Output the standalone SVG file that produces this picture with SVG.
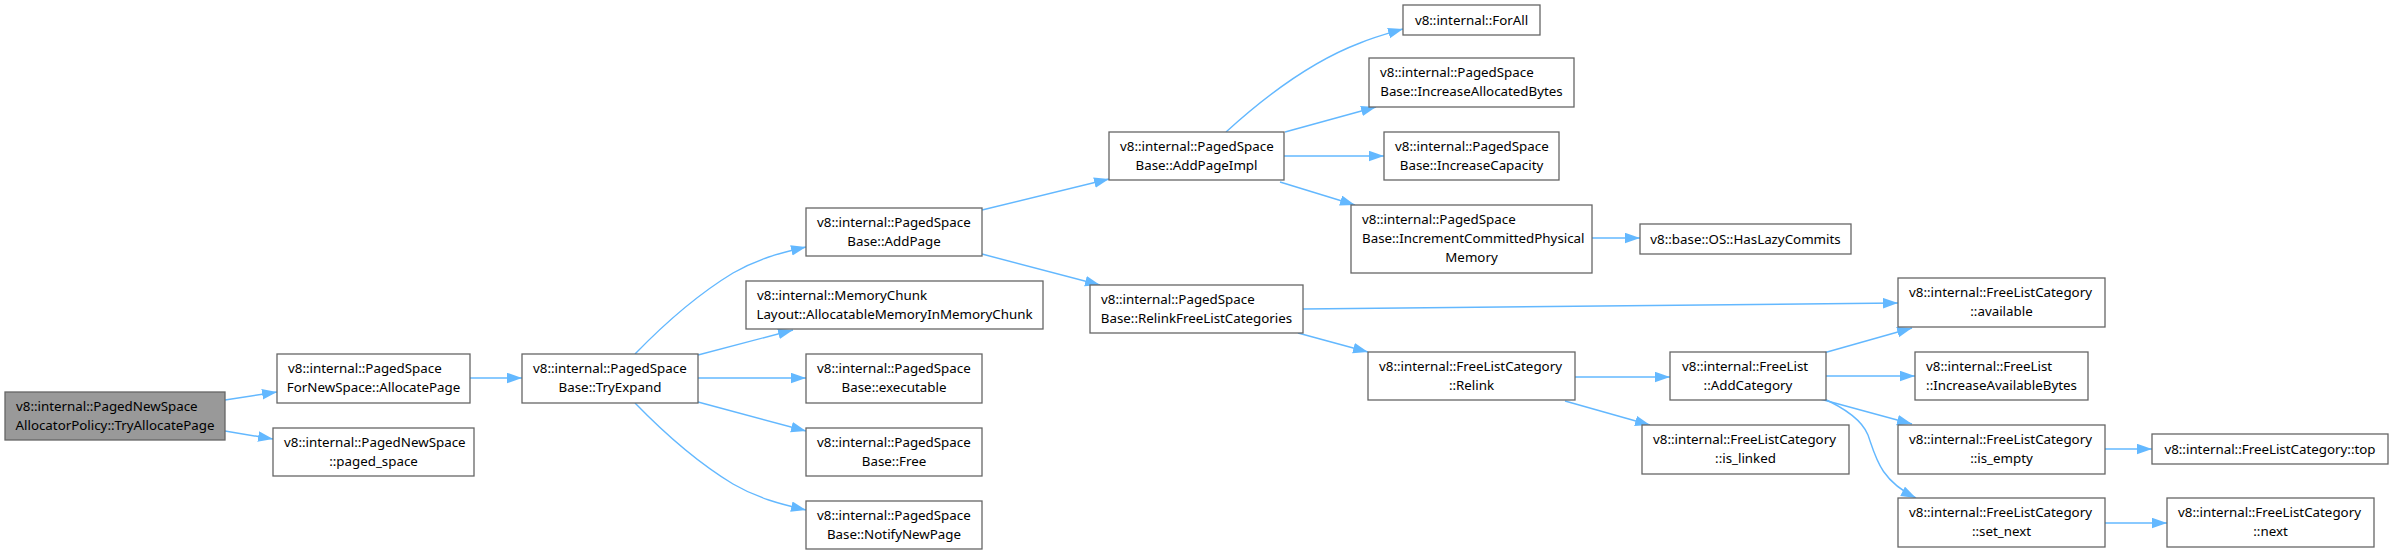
<svg xmlns="http://www.w3.org/2000/svg" width="2394" height="555" viewBox="0 0 2394 555">
<style>
.n rect{fill:#ffffff;stroke:#666666;stroke-width:1.3}
.n.root rect{fill:#999999}
.n text{font-family:"Noto Sans","Open Sans","DejaVu Sans",sans-serif;font-size:13.33px;fill:#000000}
.s{text-anchor:start}
.m{text-anchor:middle}
.e path{fill:none;stroke:#63b8ff;stroke-width:1.4;marker-end:url(#arr)}
</style>
<defs>
<marker id="arr" markerWidth="16" markerHeight="12" refX="15" refY="5.25" orient="auto" markerUnits="userSpaceOnUse">
<path d="M0,0 L15,5.25 L0,10.5 z" fill="#63b8ff"/>
</marker>
</defs>
<rect width="2394" height="555" fill="#ffffff"/>
<g id="edges" class="e">
<path d="M225,400 L277,392"/>
<path d="M225,431 L273,439"/>
<path d="M470,378 L522,378"/>
<path d="M635,354 C668,320 700,293 733,273 C757,259 780,253 806,247"/>
<path d="M698,355 L793,330"/>
<path d="M698,378 L806,378"/>
<path d="M698,402 L806,431"/>
<path d="M635,403 C668,437 700,464 733,484 C757,498 780,504 806,510"/>
<path d="M982,210 L1109,179"/>
<path d="M982,254 L1100,285"/>
<path d="M1226,132 C1260,101 1310,62 1360,43 C1374,37 1389,33 1403,29"/>
<path d="M1285,132 L1376,107"/>
<path d="M1284,156 L1384,156"/>
<path d="M1280,182 L1355,205"/>
<path d="M1592,238 L1640,238"/>
<path d="M1303,309 L1898,303"/>
<path d="M1298,333 L1368,352"/>
<path d="M1575,377 L1670,377"/>
<path d="M1565,401 L1650,425"/>
<path d="M1820,354 L1912,328"/>
<path d="M1826,376 L1915,376"/>
<path d="M1820,399 L1912,424"/>
<path d="M1820,397 C1845,408 1862,420 1868,435 C1876,458 1880,480 1916,498"/>
<path d="M2105,449 L2152,449"/>
<path d="M2105,523 L2167,523"/>
</g>
<g id="n1" class="n root"><rect x="5" y="392" width="220" height="48"/><text class="s" x="16" y="411">v8::internal::PagedNewSpace</text><text class="m" x="115" y="430">AllocatorPolicy::TryAllocatePage</text></g>
<g id="n2" class="n"><rect x="277" y="354" width="193" height="49"/><text class="s" x="288" y="373">v8::internal::PagedSpace</text><text class="m" x="373.5" y="392">ForNewSpace::AllocatePage</text></g>
<g id="n3" class="n"><rect x="273" y="428" width="201" height="48"/><text class="s" x="284" y="447">v8::internal::PagedNewSpace</text><text class="m" x="373.5" y="466">::paged_space</text></g>
<g id="n4" class="n"><rect x="522" y="354" width="176" height="49"/><text class="s" x="533" y="373">v8::internal::PagedSpace</text><text class="m" x="610" y="392">Base::TryExpand</text></g>
<g id="n5" class="n"><rect x="806" y="208" width="176" height="48"/><text class="s" x="817" y="227">v8::internal::PagedSpace</text><text class="m" x="894" y="246">Base::AddPage</text></g>
<g id="n6" class="n"><rect x="746" y="281" width="297" height="48"/><text class="s" x="757" y="300">v8::internal::MemoryChunk</text><text class="m" x="894.5" y="319">Layout::AllocatableMemoryInMemoryChunk</text></g>
<g id="n7" class="n"><rect x="806" y="354" width="176" height="49"/><text class="s" x="817" y="373">v8::internal::PagedSpace</text><text class="m" x="894" y="392">Base::executable</text></g>
<g id="n8" class="n"><rect x="806" y="428" width="176" height="48"/><text class="s" x="817" y="447">v8::internal::PagedSpace</text><text class="m" x="894" y="466">Base::Free</text></g>
<g id="n9" class="n"><rect x="806" y="501" width="176" height="48"/><text class="s" x="817" y="520">v8::internal::PagedSpace</text><text class="m" x="894" y="539">Base::NotifyNewPage</text></g>
<g id="n10" class="n"><rect x="1109" y="132" width="175" height="48"/><text class="s" x="1120" y="151">v8::internal::PagedSpace</text><text class="m" x="1196.5" y="170">Base::AddPageImpl</text></g>
<g id="n11" class="n"><rect x="1090" y="285" width="213" height="48"/><text class="s" x="1101" y="304">v8::internal::PagedSpace</text><text class="m" x="1196.5" y="323">Base::RelinkFreeListCategories</text></g>
<g id="n12" class="n"><rect x="1403" y="5" width="137" height="30"/><text class="m" x="1471.5" y="24.5">v8::internal::ForAll</text></g>
<g id="n13" class="n"><rect x="1369" y="58" width="205" height="49"/><text class="s" x="1380" y="77">v8::internal::PagedSpace</text><text class="m" x="1471.5" y="96">Base::IncreaseAllocatedBytes</text></g>
<g id="n14" class="n"><rect x="1384" y="132" width="175" height="48"/><text class="s" x="1395" y="151">v8::internal::PagedSpace</text><text class="m" x="1471.5" y="170">Base::IncreaseCapacity</text></g>
<g id="n15" class="n"><rect x="1351" y="205" width="241" height="68"/><text class="s" x="1362" y="223.5">v8::internal::PagedSpace</text><text class="s" x="1362" y="242.5">Base::IncrementCommittedPhysical</text><text class="m" x="1471.5" y="261.5">Memory</text></g>
<g id="n16" class="n"><rect x="1640" y="224" width="211" height="30"/><text class="m" x="1745.5" y="243.5">v8::base::OS::HasLazyCommits</text></g>
<g id="n17" class="n"><rect x="1368" y="352" width="207" height="48"/><text class="s" x="1379" y="371">v8::internal::FreeListCategory</text><text class="m" x="1471.5" y="390">::Relink</text></g>
<g id="n18" class="n"><rect x="1670" y="352" width="156" height="48"/><text class="s" x="1682" y="371">v8::internal::FreeList</text><text class="m" x="1748" y="390">::AddCategory</text></g>
<g id="n19" class="n"><rect x="1642" y="425" width="207" height="49"/><text class="s" x="1653" y="444">v8::internal::FreeListCategory</text><text class="m" x="1745.5" y="463">::is_linked</text></g>
<g id="n20" class="n"><rect x="1898" y="278" width="207" height="49"/><text class="s" x="1909" y="297">v8::internal::FreeListCategory</text><text class="m" x="2001.5" y="316">::available</text></g>
<g id="n21" class="n"><rect x="1915" y="352" width="173" height="48"/><text class="s" x="1926" y="371">v8::internal::FreeList</text><text class="m" x="2001.5" y="390">::IncreaseAvailableBytes</text></g>
<g id="n22" class="n"><rect x="1898" y="425" width="207" height="49"/><text class="s" x="1909" y="444">v8::internal::FreeListCategory</text><text class="m" x="2001.5" y="463">::is_empty</text></g>
<g id="n23" class="n"><rect x="2152" y="434" width="236" height="30"/><text class="m" x="2270" y="453.5">v8::internal::FreeListCategory::top</text></g>
<g id="n24" class="n"><rect x="1898" y="498" width="207" height="49"/><text class="s" x="1909" y="517">v8::internal::FreeListCategory</text><text class="m" x="2001.5" y="536">::set_next</text></g>
<g id="n25" class="n"><rect x="2167" y="498" width="207" height="49"/><text class="s" x="2178" y="517">v8::internal::FreeListCategory</text><text class="m" x="2270.5" y="536">::next</text></g>
</svg>
